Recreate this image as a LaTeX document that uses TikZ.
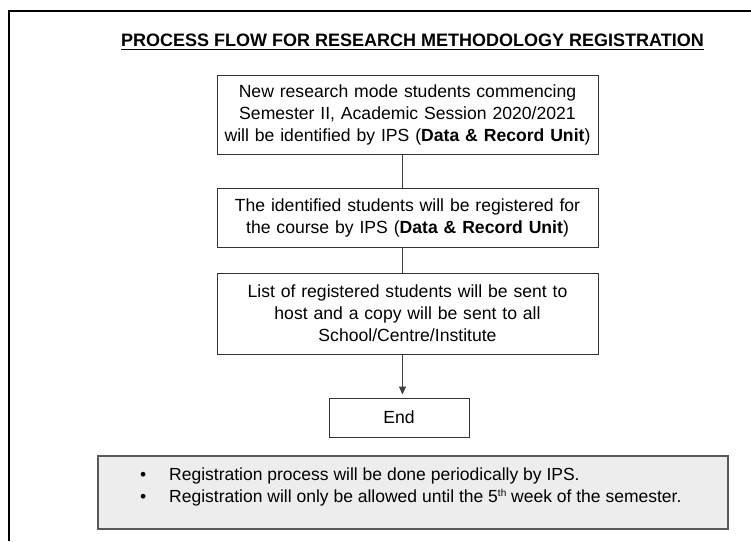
\documentclass[tikz,border=0pt]{standalone}
\usepackage{fontspec}
\setmainfont{Liberation Sans}
\usetikzlibrary{arrows.meta}
\begin{document}
\begin{tikzpicture}[x=1pt,y=-1pt,
  stepbox/.style={draw=black!80, line width=1pt, text width=381pt, minimum width=381pt,
    inner xsep=0pt, inner ysep=0pt, align=center, font=\fontsize{17.6}{22}\selectfont},
  link/.style={draw=black!75, line width=1pt},
  notebox/.style={draw=black!65, line width=1.5pt, fill=black!7, minimum width=630pt, minimum height=73pt},
  notetext/.style={anchor=base west, align=left, inner sep=0pt, font=\fontsize{17.5}{22}\selectfont},
  frame/.style={line width=2pt, draw=black},
]
\useasboundingbox (0,0) rectangle (751,541);
\coordinate (fb) at (9,541);
\coordinate (fc) at (9,11);
\coordinate (fr) at (751,11);
\draw[frame] (fb) -- (fc) -- (fr);

\node[anchor=base, inner sep=0pt, font=\fontsize{18}{22}\selectfont\bfseries] (title) at (412.5,46)
  {PROCESS FLOW FOR RESEARCH METHODOLOGY REGISTRATION};
\draw[line width=1.4pt] ([yshift=-3.5pt]title.base west) -- ([yshift=-3.5pt]title.base east);

\node[stepbox, minimum height=79pt] (b1) at (407.5,114.5)
  {New research mode students commencing\\Semester II, Academic Session 2020/2021\\will be identified by IPS (\textbf{Data \& Record Unit})};
\node[stepbox, minimum height=59pt] (b2) at (407.5,217.5)
  {The identified students will be registered for\\the course by IPS (\textbf{Data \& Record Unit})};
\node[stepbox, minimum height=81pt] (b3) at (407.5,313.5)
  {List of registered students will be sent to\\host and a copy will be sent to all\\School/Centre/Institute};
\node[stepbox, text width=140pt, minimum width=140pt, minimum height=39pt] (end) at (399,417.5) {End};

\coordinate (cx) at (402.5,0);
\draw[link] (b1.south -| cx) -- (b2.north -| cx);
\draw[link] (b2.south -| cx) -- (b3.north -| cx);
\draw[link, -{Triangle[length=8pt,width=7pt]}, shorten >=3pt] (b3.south -| cx) -- (end.north -| cx);

\node[notebox] (note) at (413,492.5) {};
\node[notetext] (n1) at (140,480) {\makebox[29pt][l]{\textbullet}Registration process will be done periodically by IPS.};
\node[notetext] (n2) at (140,502) {\makebox[29pt][l]{\textbullet}Registration will only be allowed until the 5{\fontsize{10}{10}\selectfont\raisebox{6pt}{th}} week of the semester.};
\end{tikzpicture}
\end{document}
